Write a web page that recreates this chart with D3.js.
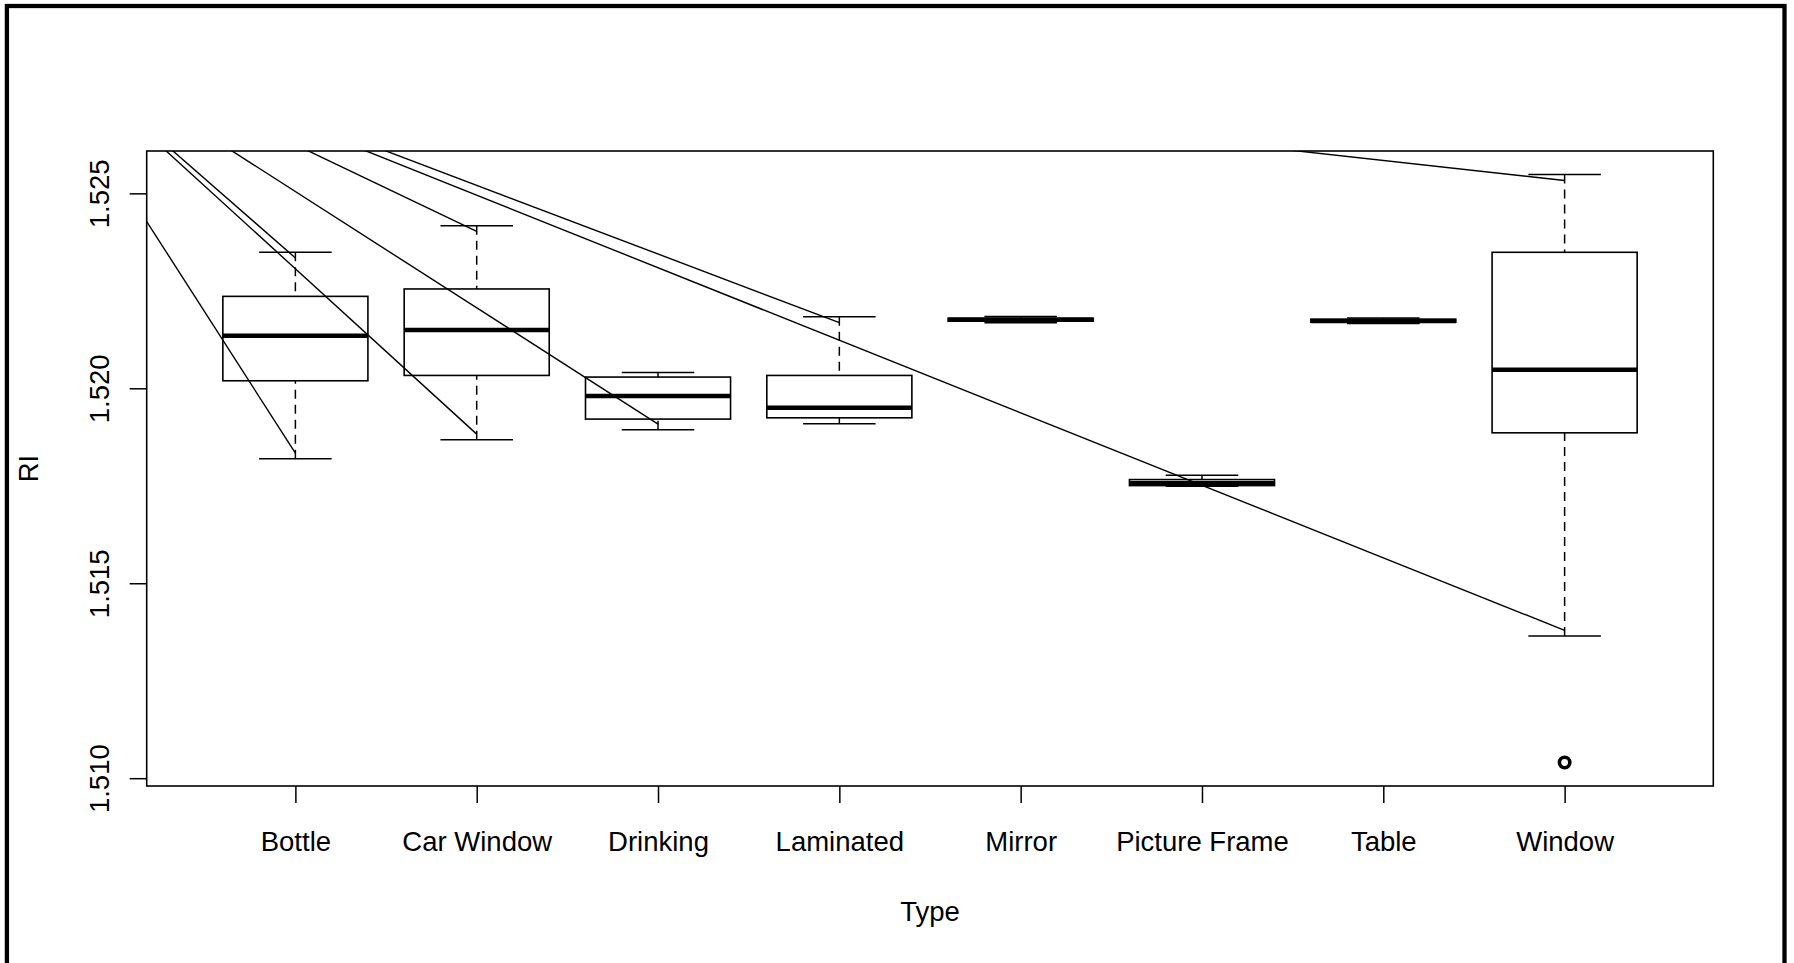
<!DOCTYPE html>
<html>
<head>
<meta charset="utf-8">
<script src="https://cdn.jsdelivr.net/npm/d3@7/dist/d3.min.js"></script>
<style>
  html, body { margin: 0; padding: 0; background: #ffffff; }
  svg { display: block; }
  text { font-family: "Liberation Sans", Arial, Helvetica, sans-serif; fill: #000; }
</style>
</head>
<body>
<svg id="chart" width="1794" height="963"></svg>
<script>
// Refractive index (RI) by glass type: five-number summaries per type
const categories = ["Bottle", "Car Window", "Drinking", "Laminated", "Mirror", "Picture Frame", "Table", "Window"];
const whiskerLow  = [1.518191, 1.518679, 1.518935, 1.519089, 1.521683, 1.517485, 1.521665, 1.513646];
const quartile1   = [1.520193, 1.520330, 1.519210, 1.519243, 1.521721, 1.517505, 1.521695, 1.518858];
const medians     = [1.521349, 1.521495, 1.519801, 1.519500, 1.521760, 1.517562, 1.521726, 1.520476];
const quartile3   = [1.522358, 1.522548, 1.520288, 1.520330, 1.521798, 1.517659, 1.521772, 1.523488];
const whiskerHigh = [1.523488, 1.524166, 1.520407, 1.521837, 1.521840, 1.517772, 1.521803, 1.525483];

// Points beyond the whiskers
const outlierTypes  = ["Window"];
const outlierValues = [1.510403];

// Guide segments: all start from one common anchor and run to a type/RI point
const guideAnchor = [-0.574, 1.52974];           // [type position, RI]
const guideTypes  = ["Bottle", "Car Window", "Bottle", "Drinking", "Car Window", "Window", "Laminated", "Window"];
const guideValues = [1.518337, 1.518825, 1.523344, 1.519082, 1.524027, 1.513792, 1.521683, 1.525329];

const yTicks = [1.510, 1.515, 1.520, 1.525];
const xTitle = "Type";
const yTitle = "RI";

// ---- layout ----
const W = 1794, H = 963;
const plot = { left: 146.7, right: 1713.3, top: 151, bottom: 786 };

const svg = d3.select("#chart");

// Range of everything plotted, padded by 4% on each side
const allVals = whiskerLow.concat(whiskerHigh, outlierValues);
const lo = d3.min(allVals), hi = d3.max(allVals);
const pad = (hi - lo) * 0.04;
const y = d3.scaleLinear().domain([lo - pad, hi + pad]).range([plot.bottom, plot.top]);

const n = categories.length;
const xPad = n * 0.04;
const x = d3.scaleLinear().domain([0.5 - xPad, n + 0.5 + xPad]).range([plot.left, plot.right]);
const pos = t => categories.indexOf(t) + 1;

const boxHalf = 0.4;     // half of box width in category units
const capHalf = 0.2;     // half of whisker cap width

// Outer frame
svg.append("rect")
  .attr("x", 6.9).attr("y", 6).attr("width", 1777.6).attr("height", 1100)
  .attr("fill", "none").attr("stroke", "#000").attr("stroke-width", 4.3);

// Clip for the guide segments
svg.append("defs").append("clipPath").attr("id", "plotClip")
  .append("rect")
  .attr("x", plot.left).attr("y", plot.top)
  .attr("width", plot.right - plot.left).attr("height", plot.bottom - plot.top);

// Boxes
const data = categories.map((c, i) => ({
  c, i: i + 1,
  wlo: whiskerLow[i], q1: quartile1[i], med: medians[i], q3: quartile3[i], whi: whiskerHigh[i]
}));

const boxes = svg.append("g").attr("class", "boxes");
const g = boxes.selectAll("g").data(data).join("g");

// whiskers (dashed), drawn from the whisker end toward the box
g.append("line")
  .attr("x1", d => x(d.i)).attr("x2", d => x(d.i))
  .attr("y1", d => y(d.whi)).attr("y2", d => y(d.q3))
  .attr("stroke", "#000").attr("stroke-width", 1.5).attr("stroke-dasharray", "9,6");
g.append("line")
  .attr("x1", d => x(d.i)).attr("x2", d => x(d.i))
  .attr("y1", d => y(d.wlo)).attr("y2", d => y(d.q1))
  .attr("stroke", "#000").attr("stroke-width", 1.5).attr("stroke-dasharray", "9,6");

// caps
g.append("line")
  .attr("x1", d => x(d.i - capHalf)).attr("x2", d => x(d.i + capHalf))
  .attr("y1", d => y(d.whi)).attr("y2", d => y(d.whi))
  .attr("stroke", "#000").attr("stroke-width", 1.5);
g.append("line")
  .attr("x1", d => x(d.i - capHalf)).attr("x2", d => x(d.i + capHalf))
  .attr("y1", d => y(d.wlo)).attr("y2", d => y(d.wlo))
  .attr("stroke", "#000").attr("stroke-width", 1.5);

// box
g.append("rect")
  .attr("x", d => x(d.i - boxHalf))
  .attr("width", d => x(d.i + boxHalf) - x(d.i - boxHalf))
  .attr("y", d => y(d.q3))
  .attr("height", d => Math.max(0, y(d.q1) - y(d.q3)))
  .attr("fill", "none").attr("stroke", "#000").attr("stroke-width", 1.6);

// median
g.append("line")
  .attr("x1", d => x(d.i - boxHalf)).attr("x2", d => x(d.i + boxHalf))
  .attr("y1", d => y(d.med)).attr("y2", d => y(d.med))
  .attr("stroke", "#000").attr("stroke-width", 4.6);

// outliers
svg.append("g").selectAll("circle")
  .data(outlierValues.map((v, i) => ({ t: outlierTypes[i], v })))
  .join("circle")
  .attr("cx", d => x(pos(d.t))).attr("cy", d => y(d.v))
  .attr("r", 5.2).attr("fill", "none").attr("stroke", "#000").attr("stroke-width", 3.6);

// guide segments
svg.append("g").attr("clip-path", "url(#plotClip)")
  .selectAll("line")
  .data(guideTypes.map((t, i) => ({ t, v: guideValues[i] })))
  .join("line")
  .attr("x1", x(guideAnchor[0])).attr("y1", y(guideAnchor[1]))
  .attr("x2", d => x(pos(d.t))).attr("y2", d => y(d.v))
  .attr("stroke", "#000").attr("stroke-width", 1.4);

// plot frame
svg.append("rect")
  .attr("x", plot.left).attr("y", plot.top)
  .attr("width", plot.right - plot.left).attr("height", plot.bottom - plot.top)
  .attr("fill", "none").attr("stroke", "#000").attr("stroke-width", 1.6);

// ---- axes ----
const fontSize = 27.5;
const tickLen = 17;

const yAxis = svg.append("g")
  .attr("transform", `translate(${plot.left},0)`)
  .call(d3.axisLeft(y).tickValues(yTicks).tickFormat(d3.format(".3f")).tickSize(tickLen).tickSizeOuter(0));
yAxis.select(".domain").remove();
yAxis.selectAll(".tick line").attr("stroke", "#000").attr("stroke-width", 1.5);
yAxis.selectAll(".tick text")
  .attr("x", null).attr("dy", null)
  .attr("text-anchor", "middle")
  .attr("font-size", fontSize)
  .attr("transform", `translate(${108.5 - plot.left},0) rotate(-90)`);

const xAxis = svg.append("g")
  .attr("transform", `translate(0,${plot.bottom})`)
  .call(d3.axisBottom(x).tickValues(d3.range(1, n + 1)).tickFormat(i => categories[i - 1]).tickSize(tickLen).tickSizeOuter(0));
xAxis.select(".domain").remove();
xAxis.selectAll(".tick line").attr("stroke", "#000").attr("stroke-width", 1.5);
xAxis.selectAll(".tick text")
  .attr("y", 851 - plot.bottom).attr("dy", null)
  .attr("font-size", fontSize);

// axis titles
svg.append("text")
  .attr("x", (plot.left + plot.right) / 2).attr("y", 920.7)
  .attr("text-anchor", "middle").attr("font-size", fontSize)
  .text(xTitle);
svg.append("text")
  .attr("transform", `translate(38,${(plot.top + plot.bottom) / 2}) rotate(-90)`)
  .attr("text-anchor", "middle").attr("font-size", fontSize)
  .text(yTitle);
</script>
</body>
</html>
